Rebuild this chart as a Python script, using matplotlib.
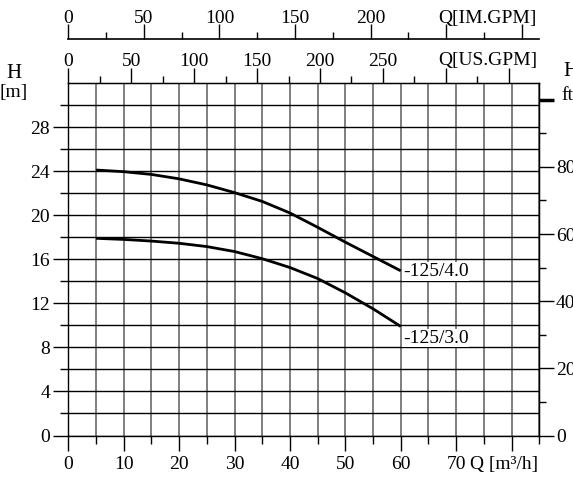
# -*- coding: utf-8 -*-

import numpy as np
import matplotlib
matplotlib.use("Agg")
import matplotlib.pyplot as plt
from matplotlib.ticker import FixedLocator, FixedFormatter

# ==============================
# DATA
# ==============================
Q_FLOW = [5, 10, 15, 20, 25, 30, 35, 40, 45, 50, 55, 60]          # m3/h
H_40 = [24.1, 23.95, 23.7, 23.3, 22.75, 22.05, 21.25, 20.2, 18.9, 17.55, 16.25, 14.95]
H_30 = [17.9, 17.8, 17.65, 17.45, 17.15, 16.7, 16.05, 15.25, 14.25, 12.95, 11.5, 9.9]
CURVE_NAMES = ["-125/4.0", "-125/3.0"]

H_TICKS = [0, 4, 8, 12, 16, 20, 24, 28]
Q_TICKS = [0, 10, 20, 30, 40, 50, 60, 70]
US_TICKS = [0, 50, 100, 150, 200, 250]
IM_TICKS = [0, 50, 100, 150, 200]
FT_TICKS = [0, 20, 40, 60, 80]

US_PER_M3H = 4.402868
IM_PER_M3H = 3.666154
FT_PER_M = 3.28084

W, H = 573, 488
FONT = "Liberation Serif"
FS = 14
plt.rcParams['font.family'] = [FONT, 'DejaVu Serif']
plt.rcParams['font.size'] = FS


def px(x, y):
    """pixel position -> figure fraction"""
    return x / W, 1 - y / H


fig = plt.figure(figsize=(W / 100, H / 100), dpi=100)
x0, y_bot, x1, y_top = 68.3, 435.5, 539.3, 83.0
ax = fig.add_axes([x0 / W, 1 - y_bot / H, (x1 - x0) / W, (y_bot - y_top) / H])
ax.set_xlim(0, 85)
ax.set_ylim(0, 32)

for s in ax.spines.values():
    s.set_color('black')
    s.set_linewidth(1.0)

# bottom axis (m3/h)
ax.xaxis.set_major_locator(FixedLocator(Q_TICKS + [80]))
ax.xaxis.set_major_formatter(FixedFormatter([str(v) for v in Q_TICKS] + ['']))
ax.xaxis.set_minor_locator(FixedLocator(np.arange(5, 86, 10)))
ax.tick_params(axis='x', which='major', length=11, width=1, direction='out', pad=4)
ax.tick_params(axis='x', which='minor', length=6, width=1, direction='out')

# left axis (m)
ax.yaxis.set_major_locator(FixedLocator(H_TICKS))
ax.yaxis.set_minor_locator(FixedLocator(np.arange(2, 31, 4)))
ax.tick_params(axis='y', which='major', length=11, width=1, direction='out', pad=2)
ax.tick_params(axis='y', which='minor', length=6, width=1, direction='out')

ax.grid(axis='x', which='both', color='#6a6a6a', linewidth=1.2)
ax.grid(axis='y', which='both', color='black', linewidth=1.0)
ax.set_axisbelow(True)

# pump curves
ax.plot(Q_FLOW, H_40, color='black', linewidth=2.0, solid_capstyle='butt', zorder=3)
ax.plot(Q_FLOW, H_30, color='black', linewidth=2.0, solid_capstyle='butt', zorder=3)
ax.text(60.4, H_40[-1] - 0.05, CURVE_NAMES[0], ha='left', va='center', fontsize=FS,
        bbox=dict(facecolor='white', edgecolor='none', pad=0.5), zorder=4)
ax.text(60.4, H_30[-1] - 1.05, CURVE_NAMES[1], ha='left', va='center', fontsize=FS,
        bbox=dict(facecolor='white', edgecolor='none', pad=0.5), zorder=4)

# top axis US GPM
us = ax.secondary_xaxis('top', functions=(lambda q: q * US_PER_M3H, lambda g: g / US_PER_M3H))
us.xaxis.set_major_locator(FixedLocator(US_TICKS + [300, 350]))
us.xaxis.set_major_formatter(FixedFormatter([str(v) for v in US_TICKS] + ['', '']))
us.xaxis.set_minor_locator(FixedLocator(np.arange(25, 340, 50)))
us.tick_params(which='major', length=11, width=1, direction='out', pad=-2)
us.tick_params(which='minor', length=5, width=1, direction='out')

# top axis IM GPM (separate line above)
im_loc = (y_bot - 39.3) / (y_bot - y_top)
im = ax.secondary_xaxis(im_loc, functions=(lambda q: q * IM_PER_M3H, lambda g: g / IM_PER_M3H))
im.xaxis.set_major_locator(FixedLocator(IM_TICKS + [250, 300]))
im.xaxis.set_major_formatter(FixedFormatter([str(v) for v in IM_TICKS] + ['', '']))
im.xaxis.set_minor_locator(FixedLocator(np.arange(25, 290, 50)))
im.tick_params(which='major', length=11, width=1, direction='out', pad=-2)
im.tick_params(which='minor', length=5, width=1, direction='out')
im.spines['top'].set_linewidth(1.2)

# right axis (ft)
ft = ax.secondary_yaxis('right', functions=(lambda m: m * FT_PER_M, lambda f: f / FT_PER_M))
ft.yaxis.set_major_locator(FixedLocator(FT_TICKS + [100]))
ft.yaxis.set_major_formatter(FixedFormatter([str(v) for v in FT_TICKS] + ['']))
ft.yaxis.set_minor_locator(FixedLocator(np.arange(10, 100, 20)))
ft.tick_params(which='major', length=11, width=1, direction='out', pad=1)
ft.tick_params(which='minor', length=5, width=1, direction='out')
# the 100 ft mark is drawn heavier
top_tick = ft.yaxis.get_major_ticks()[-1]
top_tick.tick1line.set_markeredgewidth(2.5)
top_tick.tick2line.set_markeredgewidth(2.5)

# axis names
q_us = x0 + 300 / US_PER_M3H * (x1 - x0) / 85
q_im = x0 + 250 / IM_PER_M3H * (x1 - x0) / 85
fig.text(*px(q_us - 8, 60), "Q[US.GPM]", ha='left', va='center', fontsize=FS)
fig.text(*px(q_im - 8, 18), "Q[IM.GPM]", ha='left', va='center', fontsize=FS)
fig.text(*px(470, 464), "Q [m³/h]", ha='left', va='center', fontsize=FS)
fig.text(*px(14, 74), "H", ha='center', va='center', fontsize=15)
fig.text(*px(14, 92), "[m]", ha='center', va='center', fontsize=FS)
fig.text(*px(563, 72), "H", ha='left', va='center', fontsize=15)
fig.text(*px(561, 95), "ft", ha='left', va='center', fontsize=FS)

fig.savefig("out.png", dpi=100, facecolor='white')
